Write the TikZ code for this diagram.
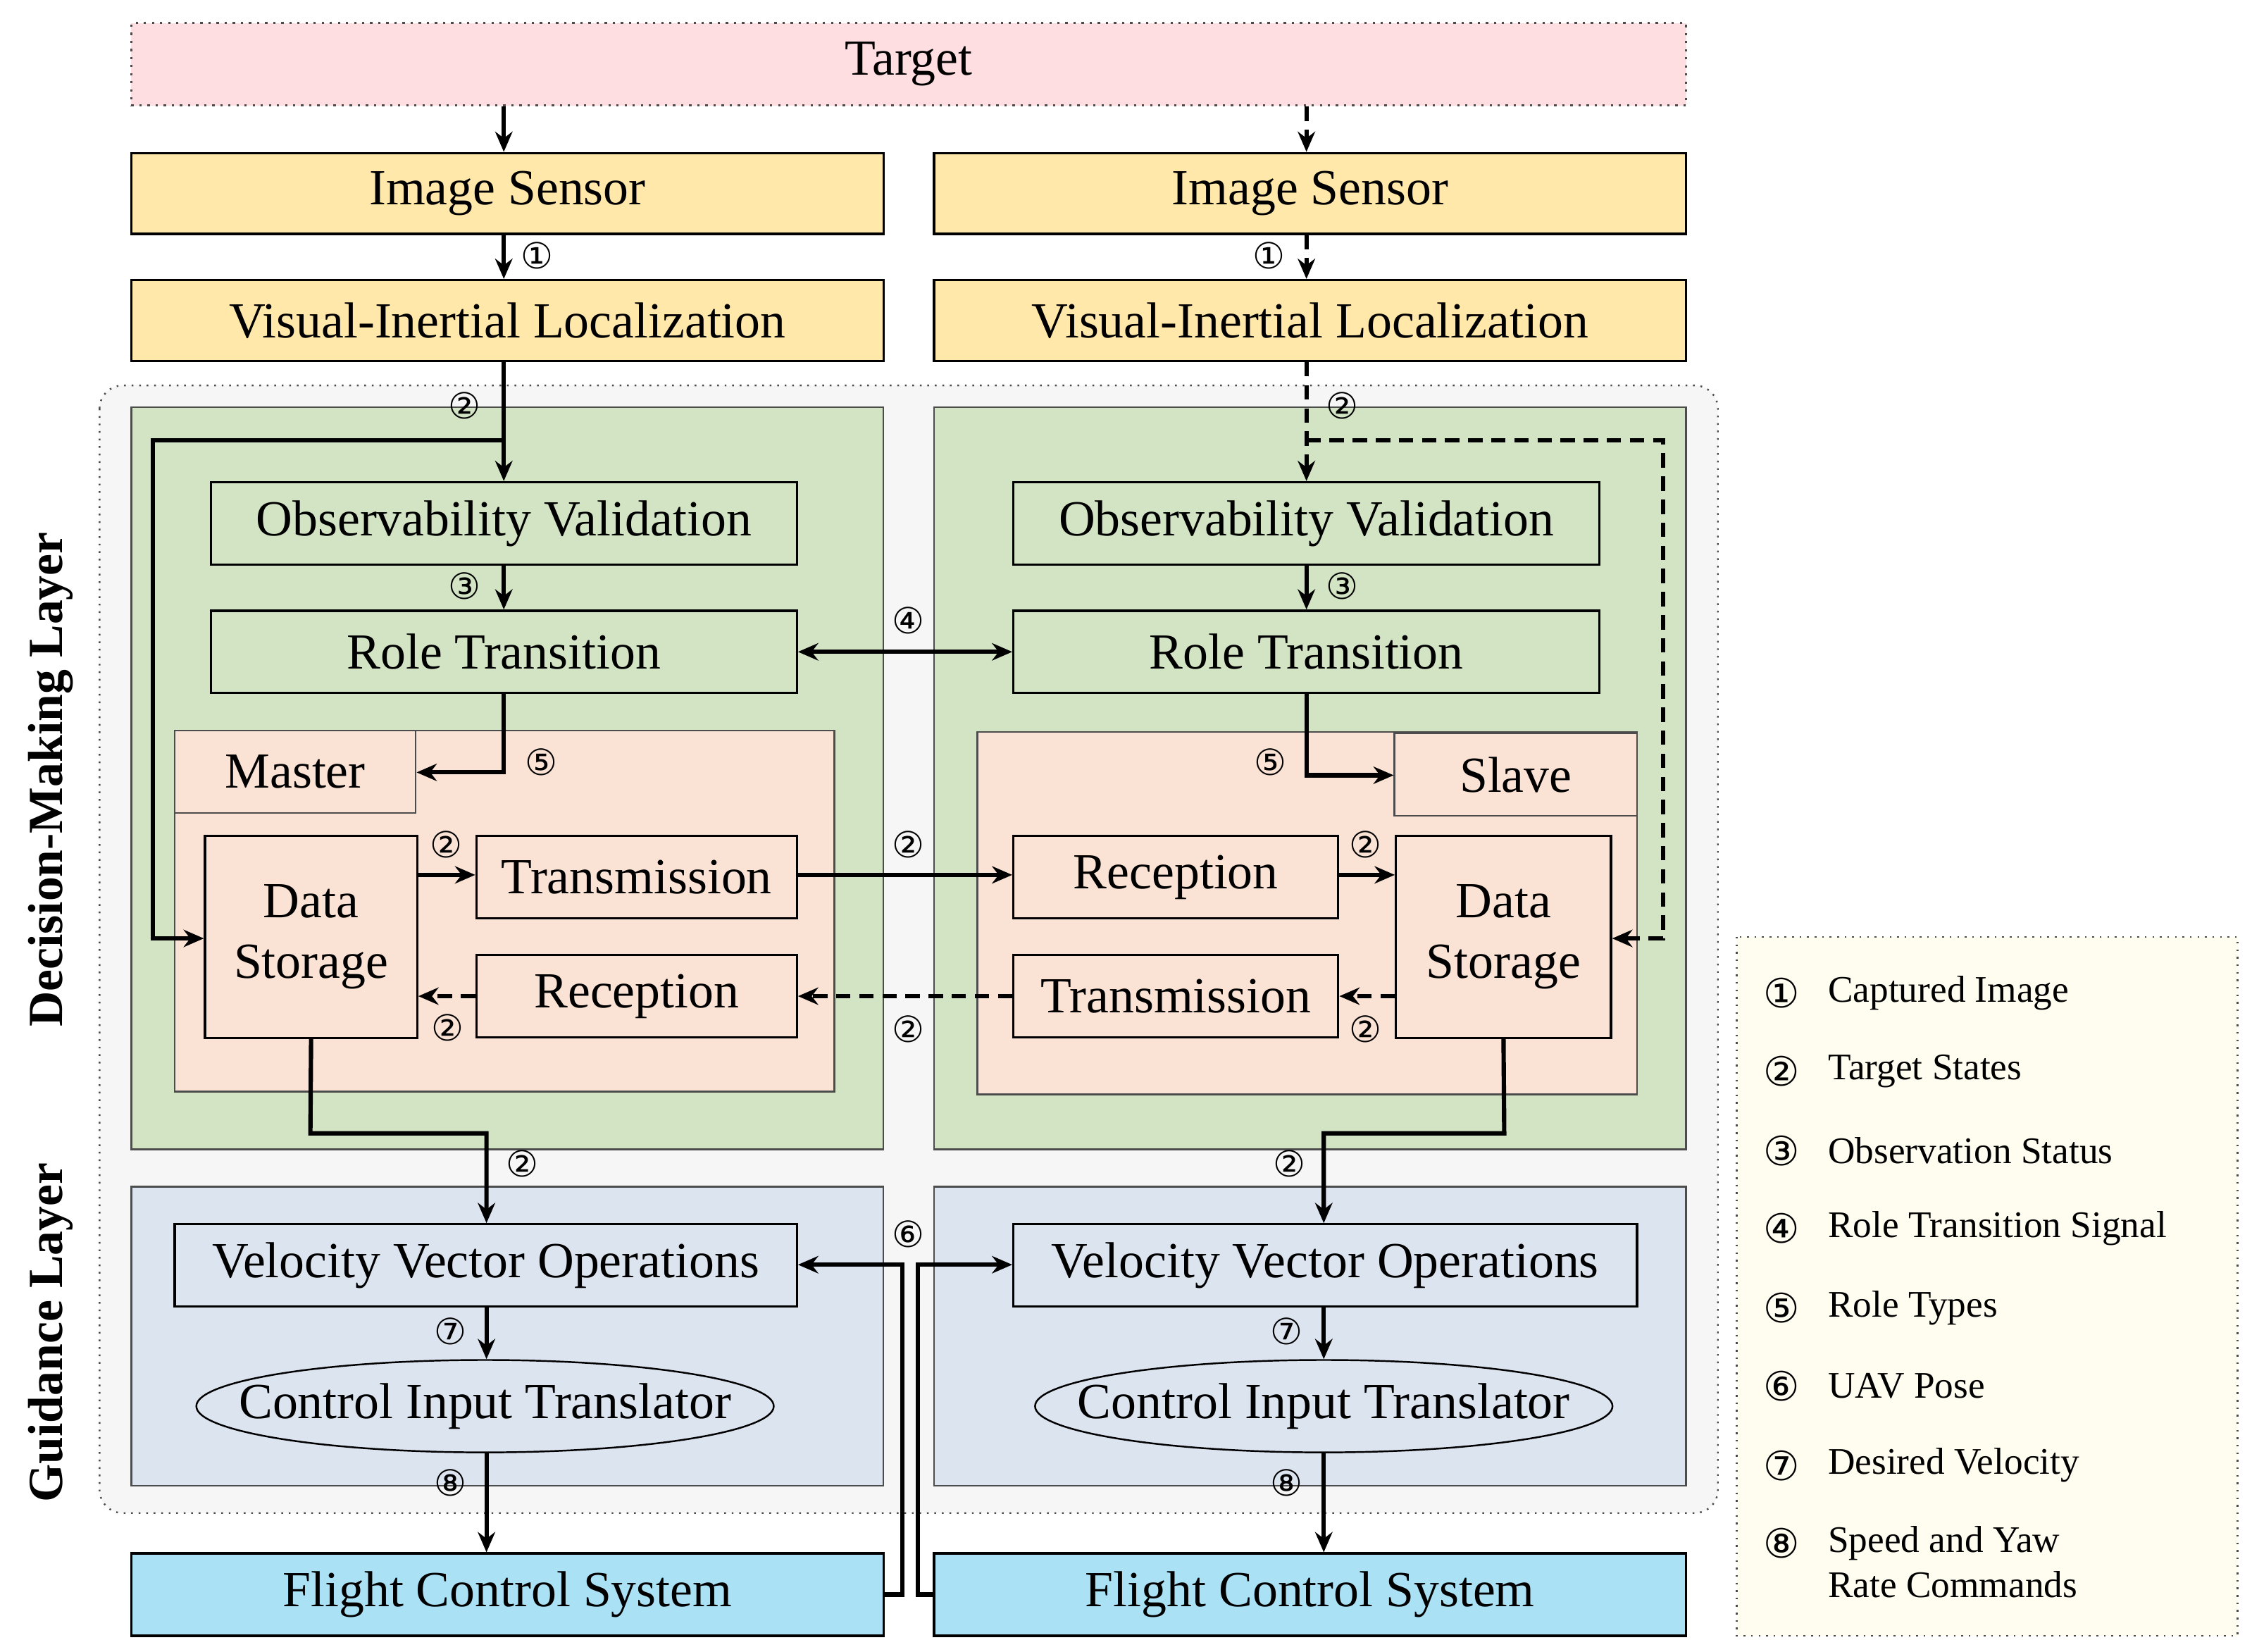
\documentclass[tikz,border=0pt]{standalone}
\usepackage{fontspec}
\setmainfont{Liberation Serif}
\newfontfamily\circfont{DejaVu Sans}
\usetikzlibrary{arrows.meta,shapes.geometric}
\definecolor{cpink}{RGB}{255,222,226}
\definecolor{cyel}{RGB}{255,232,170}
\definecolor{cgreen}{RGB}{210,228,196}
\definecolor{cpeach}{RGB}{250,226,212}
\definecolor{cblue}{RGB}{220,228,240}
\definecolor{ccyan}{RGB}{170,225,245}
\definecolor{cgray}{RGB}{246,246,246}
\definecolor{cleg}{RGB}{255,252,240}
\begin{document}
\begin{tikzpicture}[x=0.5pt,y=-0.5pt,
 box/.style={draw=black,line width=0.8pt,inner sep=0pt,font=\fontsize{17.5}{21}\selectfont},
 reg/.style={draw=black!70,line width=0.6pt},
 arr/.style={line width=1.5pt,-{Stealth[length=7pt,width=6pt]}},
 dsh/.style={dash pattern=on 5pt off 3pt},
 num/.style={font=\circfont\fontsize{12.5}{13}\selectfont,inner sep=0pt},
 leg/.style={anchor=west,font=\fontsize{13}{15.5}\selectfont,align=left,inner sep=0pt},
 ell/.style={draw=black,line width=0.6pt,ellipse,fill=cblue,minimum width=200pt,minimum height=32pt,inner sep=0pt}]
\useasboundingbox (0,0) rectangle (1560,1144);
% regions
\draw[black!70,dotted,line width=0.6pt,fill=cgray,rounded corners=8pt] (69,267) rectangle (1190,1048);
\foreach \dx in {0,556}{
 \draw[reg,fill=cgreen] (91+\dx,282) rectangle (612+\dx,796);
 \draw[reg,fill=cblue] (91+\dx,822) rectangle (612+\dx,1029);
}
\draw[reg,fill=cpeach] (121,506) rectangle (578,756);
\draw[reg,fill=cpeach] (677,507) rectangle (1134,758);
% nodes
\node[box,draw=black!70,dotted,fill=cpink,minimum width=538.5pt,minimum height=28.5pt] (tg) at (629.5,44.5) {Target};
\node[box,fill=cyel,minimum width=260.5pt,minimum height=28pt] (isL) at (351.5,134) {Image Sensor};
\node[box,fill=cyel,minimum width=260.5pt,minimum height=28pt] (isR) at (907.5,134) {Image Sensor};
\node[box,fill=cyel,minimum width=260.5pt,minimum height=28pt] (viL) at (351.5,222) {Visual-Inertial Localization};
\node[box,fill=cyel,minimum width=260.5pt,minimum height=28pt] (viR) at (907.5,222) {Visual-Inertial Localization};
\node[box,fill=cgreen,minimum width=203pt,minimum height=28.5pt] (ovL) at (349,362.5) {Observability Validation};
\node[box,fill=cgreen,minimum width=203pt,minimum height=28.5pt] (ovR) at (905,362.5) {Observability Validation};
\node[box,fill=cgreen,minimum width=203pt,minimum height=28.5pt] (rtL) at (349,451.5) {Role Transition};
\node[box,fill=cgreen,minimum width=203pt,minimum height=28.5pt] (rtR) at (905,451.5) {Role Transition};
\node[box,draw=black!70,line width=0.6pt,fill=cpeach,minimum width=83.5pt,minimum height=28.5pt] (ms) at (204.5,534.5) {Master};
\node[box,draw=black!70,line width=0.6pt,fill=cpeach,minimum width=84pt,minimum height=28.5pt] (sl) at (1050,536.5) {Slave};
\node[box,fill=cpeach,minimum width=73.5pt,minimum height=70pt,align=center] (dsL) at (215.5,649) {Data\\Storage};
\node[box,fill=cpeach,minimum width=74.5pt,minimum height=70pt,align=center] (dsR) at (1041.5,649) {Data\\Storage};
\node[box,fill=cpeach,minimum width=111pt,minimum height=28.5pt] (txL) at (441,607.5) {Transmission};
\node[box,fill=cpeach,minimum width=111pt,minimum height=28.5pt] (rxL) at (441,690) {Reception};
\node[box,fill=cpeach,minimum width=112.5pt,minimum height=28.5pt] (rxR) at (814.5,607.5) {Reception};
\node[box,fill=cpeach,minimum width=112.5pt,minimum height=28.5pt] (txR) at (814.5,690) {Transmission};
\node[box,fill=cblue,minimum width=215.5pt,minimum height=28.5pt] (vvL) at (336.5,876.5) {Velocity Vector Operations};
\node[box,fill=cblue,minimum width=216pt,minimum height=28.5pt] (vvR) at (918,876.5) {Velocity Vector Operations};
\node[ell] (ciL) at (336,974) {};
\node[ell] (ciR) at (917,974) {};
\node[font=\fontsize{17.5}{21}\selectfont,inner sep=0pt] (ciLt) at (ciL.center) {Control Input Translator};
\node[font=\fontsize{17.5}{21}\selectfont,inner sep=0pt] (ciRt) at (ciR.center) {Control Input Translator};
\node[box,fill=ccyan,minimum width=260.5pt,minimum height=28.5pt] (fcL) at (351.5,1104.5) {Flight Control System};
\node[box,fill=ccyan,minimum width=260.5pt,minimum height=28.5pt] (fcR) at (907.5,1104.5) {Flight Control System};
% layer labels
\node[rotate=90,font=\bfseries\fontsize{17}{20}\selectfont] (lbD) at (35,540) {Decision-Making Layer};
\node[rotate=90,font=\bfseries\fontsize{17}{20}\selectfont] (lbG) at (35,923) {Guidance Layer};
% arrows left (solid)
\draw[arr] (tg.south -| 349,0) -- (isL.north -| 349,0);
\draw[arr] (isL.south -| 349,0) -- (viL.north -| 349,0);
\draw[arr] (viL.south -| 349,0) -- (ovL.north);
\draw[arr] (349,305) -- (106,305) -- (106,650) -- (dsL.west |- 0,650);
\draw[arr] (ovL.south) -- (rtL.north);
\draw[arr] (rtL.south) -- (349,535) -- (ms.east |- 0,535);
\draw[arr] (dsL.east |- 0,606) -- (txL.west |- 0,606);
\draw[arr,dsh] (rxL.west) -- (dsL.east |- rxL.west);
\draw[arr] (txL.east |- 0,606) -- (rxR.west |- 0,606);
\draw[arr,dsh] (txR.west) -- (rxL.east);
\draw[arr] (rxR.east |- 0,606) -- (dsR.west |- 0,606);
\draw[arr,dsh] (dsR.west |- txR.east) -- (txR.east);
\draw[arr,{Stealth[length=7pt,width=6pt]}-{Stealth[length=7pt,width=6pt]}] (rtL.east) -- (rtR.west);
\draw[arr] (dsL.south) -- (215,785) -- (337,785) -- (vvL.north -| 337,0);
\draw[arr] (vvL.south -| 337,0) -- (ciL.north -| 337,0);
\draw[arr] (ciL.south -| 337,0) -- (fcL.north -| 337,0);
% right (dashed)
\draw[arr,dsh] (tg.south -| 905,0) -- (isR.north -| 905,0);
\draw[arr,dsh] (isR.south -| 905,0) -- (viR.north -| 905,0);
\draw[arr,dsh] (viR.south -| 905,0) -- (ovR.north);
\draw[arr,dsh] (905,305) -- (1152,305) -- (1152,650) -- (dsR.east |- 0,650);
\draw[arr] (ovR.south) -- (rtR.north);
\draw[arr] (rtR.south) -- (905,537) -- (sl.west |- 0,537);
\draw[arr] (dsR.south) -- (1042,785) -- (917,785) -- (vvR.north -| 917,0);
\draw[arr] (vvR.south -| 917,0) -- (ciR.north -| 917,0);
\draw[arr] (ciR.south -| 917,0) -- (fcR.north -| 917,0);
% UAV pose
\draw[arr] (fcL.east) -- (625,1104.5) -- (625,876) -- (vvL.east |- 0,876);
\draw[arr] (fcR.west) -- (636,1104.5) -- (636,876) -- (vvR.west |- 0,876);
% numbers
\foreach \t/\x/\y in {①/372/177,①/879/177,②/322/281,②/930/281,③/322/406,③/930/406,④/629/430,⑤/375/528,⑤/880/528,
 ②/309/585,②/310/712,②/629/585,②/629/713,②/946/585,②/946/713,②/362/806,②/893/806,⑥/629/855,⑦/312/922,⑦/891/922,⑧/312/1027,⑧/891/1027}
 \node[num] at (\x,\y) {\t};
% legend
\draw[black!70,dotted,line width=0.6pt,fill=cleg] (1203,649) rectangle (1550,1133);
\foreach \t/\s/\y in {①/Captured Image/688,②/Target States/742,③/Observation Status/797,④/Role Transition Signal/851,⑤/Role Types/906,⑥/UAV Pose/960,⑦/Desired Velocity/1015}{
 \node[num,font=\circfont\fontsize{14}{15}\selectfont] at (1234,\y) {\t};
 \node[leg] at (1266,\y) {\s};
}
\node[num,font=\circfont\fontsize{14}{15}\selectfont] at (1234,1069) {⑧};
\node[leg,anchor=north west] at (1266,1057) {Speed and Yaw\\Rate Commands};
\end{tikzpicture}
\end{document}
